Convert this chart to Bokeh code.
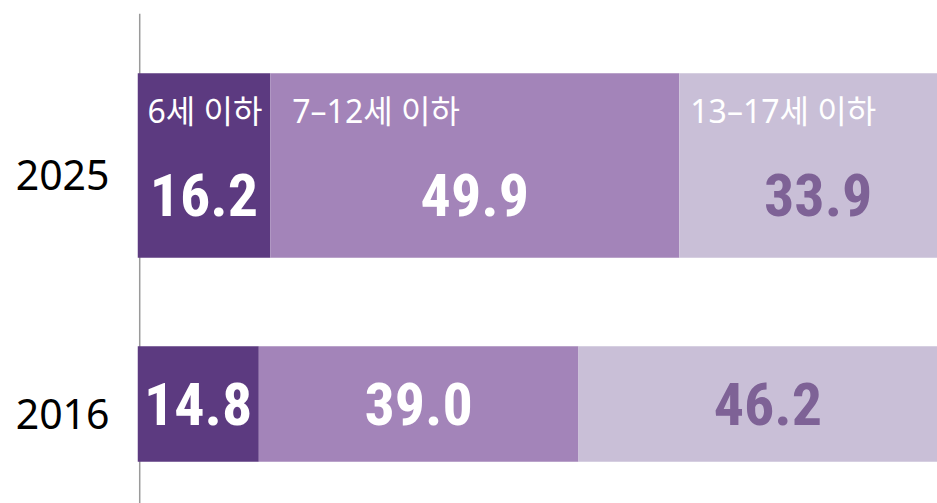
from bokeh.plotting import figure
from bokeh.models import Range1d, FixedTicker, Span, ColumnDataSource
from bokeh.core.properties import value
from bokeh.embed import file_html
from bokeh.resources import INLINE

# ---- data ----
years = ["2016", "2025"]
groups = ["6세 이하", "7–12세 이하", "13–17세 이하"]
under_6 = [14.8, 16.2]
age_7_12 = [39.0, 49.9]
age_13_17 = [46.2, 33.9]

# ---- styles ----
colors = ["#5c3a80", "#a384b9", "#c9bfd7"]
value_colors = ["#ffffff", "#ffffff", "#7e6296"]
bar_heights = [0.485, 0.774]          # 2016 thinner, 2025 thicker (row units)
label_x_offsets = [10, 22, 11]        # px from segment start for group labels
value_y_offsets = [0, 30]             # px below row centre for values
VALUE_FONT = value("'Roboto Condensed', 'Liberation Sans Narrow', 'Roboto', sans-serif")
LABEL_FONT = value("'Noto Sans', 'Noto Sans CJK KR', sans-serif")

rows = list(range(len(years)))
series = [under_6, age_7_12, age_13_17]

p = figure(width=937, height=503, output_backend="svg", toolbar_location=None,
           x_axis_location=None, x_range=Range1d(0, 97.6),
           y_range=Range1d(-0.417, 1.637))
p.min_border_left = 137
p.min_border_right = 0
p.min_border_top = 13
p.min_border_bottom = 0
p.outline_line_color = None
p.xgrid.visible = False
p.ygrid.visible = False
p.background_fill_color = "white"
p.border_fill_color = "white"

# vertical reference line
p.add_layout(Span(location=0.27, dimension="height", line_color="#9a9a9a",
                  line_width=1.5, level="underlay"))

lefts = [0.0 for _ in rows]
for si, vals in enumerate(series):
    rights = [l + v for l, v in zip(lefts, vals)]
    src = ColumnDataSource(dict(
        y=rows, left=lefts, right=rights, h=bar_heights,
        xc=[(l + r) / 2 for l, r in zip(lefts, rights)],
        txt=["%.1f" % v for v in vals],
        yoff=value_y_offsets,
    ))
    p.hbar(y="y", left="left", right="right", height="h", source=src,
           fill_color=colors[si], line_color=None)
    p.text(x="xc", y="y", text="txt", source=src, y_offset="yoff",
           text_align="center", text_baseline="middle",
           text_font=VALUE_FONT, text_font_style="bold",
           text_font_size="60px", text_color=value_colors[si])
    # group label only on the top (2025) bar
    top = len(rows) - 1
    p.text(x=[lefts[top]], y=[rows[top]], text=[groups[si]],
           x_offset=label_x_offsets[si], y_offset=-55,
           text_align="left", text_baseline="middle",
           text_font=LABEL_FONT, text_font_size="32px", text_color="white")
    lefts = rights

yax = p.yaxis[0]
yax.ticker = FixedTicker(ticks=[r - 0.042 for r in rows])
yax.major_label_overrides = {r - 0.042: y for r, y in zip(rows, years)}
yax.axis_line_color = None
yax.major_tick_line_color = None
yax.minor_tick_line_color = None
yax.major_tick_out = 0
yax.major_label_standoff = 28
yax.major_label_text_font = "Noto Sans"
yax.major_label_text_font_size = "41px"
yax.major_label_text_color = "black"

open("out.html", "w").write(file_html(p, INLINE))
